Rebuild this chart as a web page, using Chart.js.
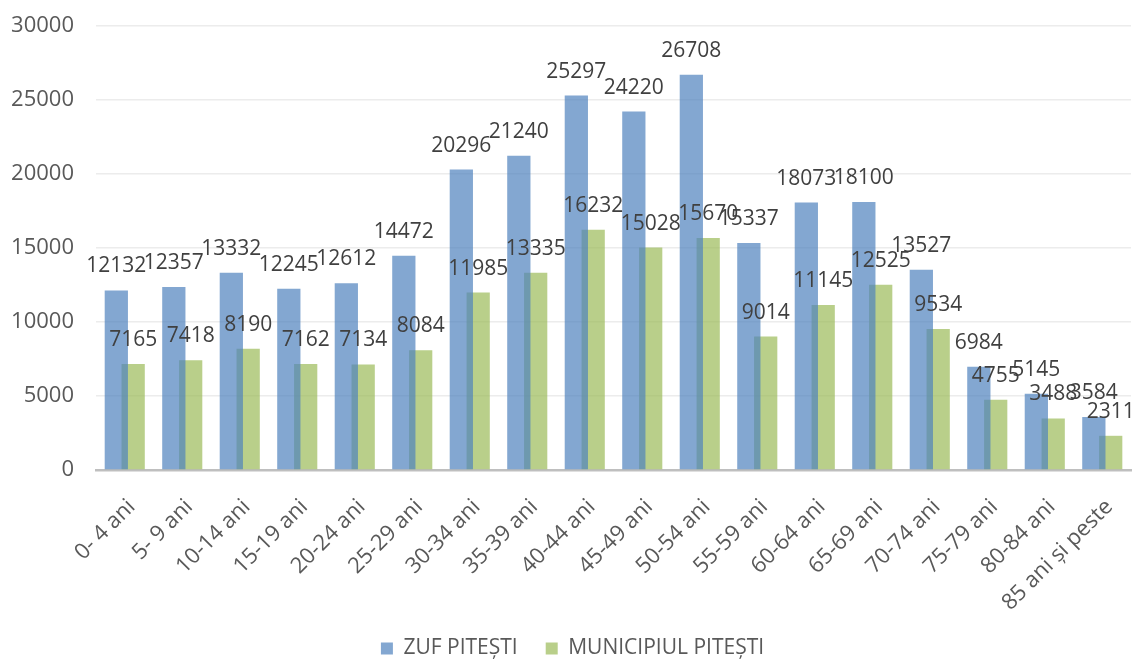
<!DOCTYPE html>
<html>
<head>
<meta charset="utf-8">
<script src="https://cdn.jsdelivr.net/npm/chart.js@4/dist/chart.umd.min.js"></script>
<style>
  html, body { margin: 0; padding: 0; background: #fff; }
  #wrap { width: 1137px; height: 660px; }
</style>
</head>
<body>
<div id="wrap"><canvas id="chart1"></canvas></div>
<script>
// age groups
const age_labels = ["0- 4 ani", "5- 9 ani", "10-14 ani", "15-19 ani", "20-24 ani", "25-29 ani",
  "30-34 ani", "35-39 ani", "40-44 ani", "45-49 ani", "50-54 ani", "55-59 ani",
  "60-64 ani", "65-69 ani", "70-74 ani", "75-79 ani", "80-84 ani", "85 ani și peste"];

// population per age group
const zuf_values = [12132, 12357, 13332, 12245, 12612, 14472, 20296, 21240, 25297,
  24220, 26708, 15337, 18073, 18100, 13527, 6984, 5145, 3584];
const mun_values = [7165, 7418, 8190, 7162, 7134, 8084, 11985, 13335, 16232,
  15028, 15670, 9014, 11145, 12525, 9534, 4755, 3488, 2311];

const y_ticks = [0, 5000, 10000, 15000, 20000, 25000, 30000];

const fontFamily = '"Open Sans", "DejaVu Sans", sans-serif';

// value printed above each bar
const valueLabels = {
  id: 'valueLabels',
  afterDatasetsDraw(chart) {
    const ctx = chart.ctx;
    ctx.save();
    ctx.font = '21px ' + fontFamily;
    ctx.fillStyle = '#404040';
    ctx.textAlign = 'center';
    ctx.textBaseline = 'alphabetic';
    chart.data.datasets.forEach((ds, i) => {
      chart.getDatasetMeta(i).data.forEach((bar, j) => {
        ctx.fillText(String(ds.data[j]), bar.x, bar.y - 18);
      });
    });
    ctx.restore();
  }
};

const age_data = {
  labels: age_labels,
  datasets: [{
    label: 'ZUF PITEȘTI',
    data: zuf_values,
    backgroundColor: 'rgba(79, 129, 189, 0.7)',
    borderColor: 'rgba(79, 129, 189, 0.7)',
    borderWidth: 0,
    categoryPercentage: 0.586,
    barPercentage: 1.38
  }, {
    label: 'MUNICIPIUL PITEȘTI',
    data: mun_values,
    backgroundColor: 'rgba(155, 187, 89, 0.7)',
    borderColor: 'rgba(155, 187, 89, 0.7)',
    borderWidth: 0,
    categoryPercentage: 0.586,
    barPercentage: 1.38
  }]
};

const age_config = {
  type: 'bar',
  data: age_data,
  plugins: [valueLabels],
  options: {
    responsive: true,
    maintainAspectRatio: false,
    animation: false,
    layout: { padding: { left: 10, right: 2, top: 26, bottom: -9 } },
    plugins: {
      tooltip: { enabled: false },
      legend: {
        position: 'bottom',
        labels: {
          boxWidth: 12,
          boxHeight: 12,
          padding: 28,
          color: '#595959',
          font: { family: fontFamily, size: 21 }
        }
      }
    },
    scales: {
      x: {
        grid: { display: false },
        border: { color: '#bfbfbf', width: 2.5 },
        afterFit: axis => { axis.height = 140; },
        ticks: {
          color: '#595959',
          font: { family: fontFamily, size: 22 },
          minRotation: 45,
          maxRotation: 45,
          autoSkip: false,
          padding: 16,
          labelOffset: 7
        }
      },
      y: {
        min: 0,
        max: 30000,
        afterBuildTicks: axis => { axis.ticks = y_ticks.map(v => ({ value: v })); },
        afterFit: axis => { axis.width = 86; },
        grid: { color: '#ececec', lineWidth: 1.5, drawTicks: true, tickLength: 22, tickColor: 'rgba(0,0,0,0)' },
        border: { display: false },
        ticks: {
          color: '#595959',
          font: { family: fontFamily, size: 22 },
          padding: 0,
          callback: v => String(v)
        }
      }
    }
  }
};

const age_chart = new Chart(document.getElementById('chart1'), age_config);
</script>
</body>
</html>
